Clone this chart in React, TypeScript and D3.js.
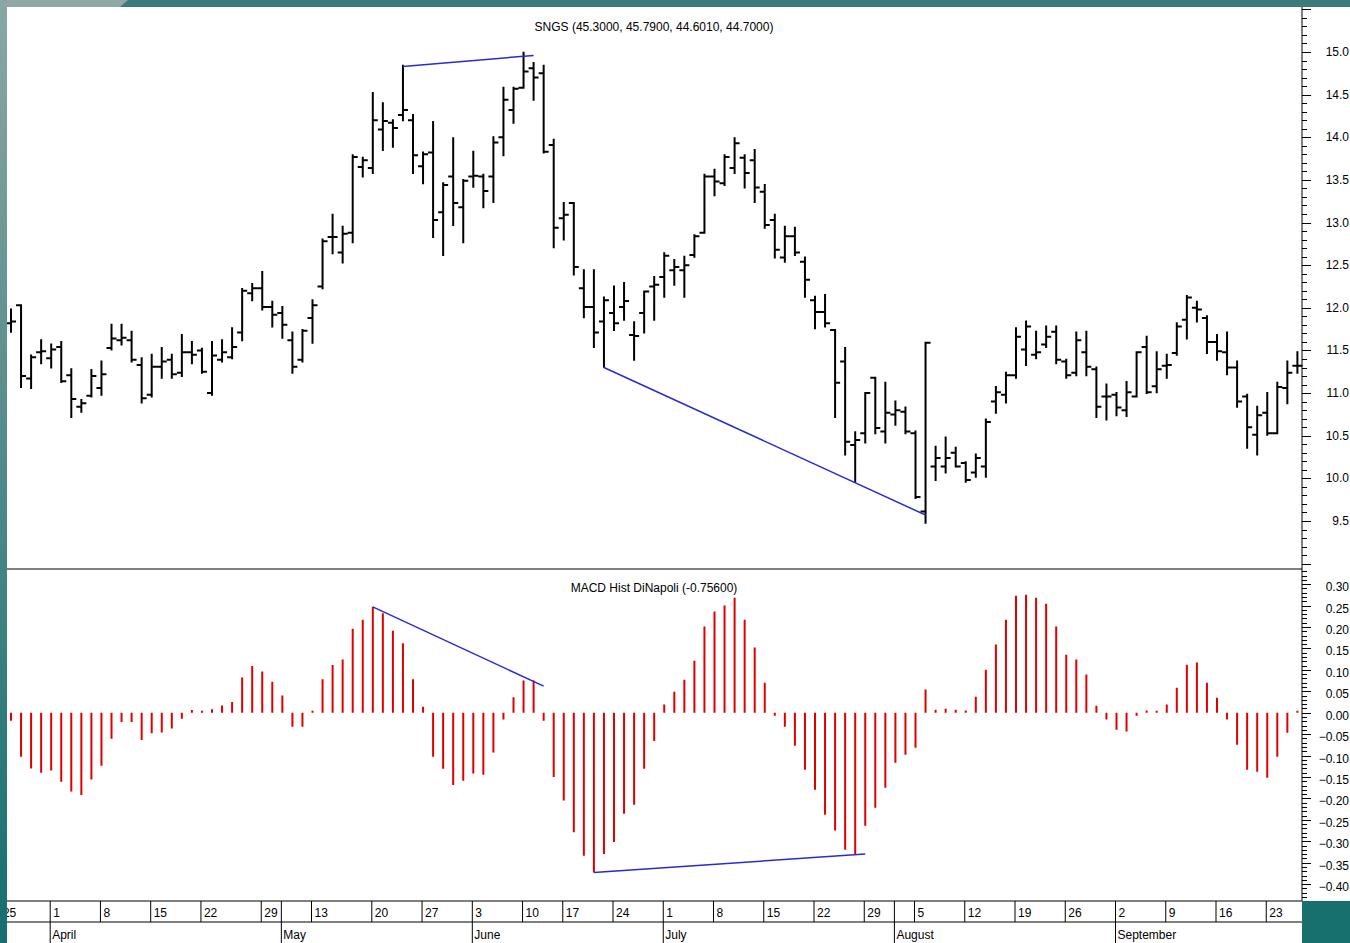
import React from 'react';
import * as d3 from 'd3';

// ---- Data (SNGS daily OHLC, Mar 26 – Sep 26) ----
const opens = [
  11.82, 12.03, 11.17, 11.48, 11.41, 11.54, 11.21, 10.84, 10.97, 11.06,
  11.53, 11.62, 11.62, 11.33, 10.98, 11.31, 11.39, 11.24, 11.48, 11.50,
  11.00, 11.39, 11.42, 11.71, 12.17, 12.23, 12.01, 11.94, 11.62, 11.39,
  11.88, 12.25, 12.83, 12.65, 12.88, 13.65, 13.64, 14.09, 14.17, 14.26,
  14.20, 13.66, 13.82, 13.12, 13.54, 13.18, 13.54, 13.54, 13.54, 14.00,
  14.32, 14.58, 14.81, 14.75, 13.91, 13.05, 13.23, 12.23, 12.01, 11.84,
  11.94, 12.01, 11.68, 11.94, 12.25, 12.36, 12.44, 12.44, 12.62, 12.88,
  13.54, 13.46, 13.64, 13.76, 13.73, 13.36, 13.03, 12.59, 12.84, 12.54,
  12.09, 11.95, 11.74, 11.37, 10.39, 10.53, 11.18, 10.55, 10.75, 10.78,
  10.53, 9.61, 10.14, 10.14, 10.30, 10.18, 10.07, 10.14, 10.90, 10.98,
  11.21, 11.51, 11.45, 11.57, 11.72, 11.37, 11.24, 11.48, 11.28, 10.96,
  10.98, 10.80, 10.96, 11.54, 11.08, 11.32, 11.47, 11.86, 12.00, 11.88,
  11.60, 11.48, 11.30, 10.96, 10.51, 10.77, 10.53, 11.06, 11.32,
];
const highs = [
  11.98, 12.03, 11.44, 11.62, 11.57, 11.60, 11.28, 10.92, 11.27, 11.37,
  11.80, 11.80, 11.72, 11.41, 11.45, 11.53, 11.45, 11.68, 11.60, 11.52,
  11.60, 11.62, 11.76, 12.22, 12.28, 12.42, 12.07, 12.01, 11.71, 11.74,
  12.09, 12.80, 13.09, 12.95, 13.79, 13.76, 14.52, 14.40, 14.20, 14.84,
  14.26, 13.82, 14.18, 13.46, 13.99, 13.50, 13.83, 13.56, 14.00, 14.58,
  14.58, 14.99, 14.87, 14.84, 13.97, 13.23, 13.23, 12.44, 12.44, 12.12,
  12.25, 12.29, 11.83, 12.19, 12.36, 12.64, 12.56, 12.60, 12.85, 13.56,
  13.62, 13.79, 13.99, 13.79, 13.85, 13.44, 13.09, 12.95, 12.94, 12.59,
  12.13, 12.15, 11.74, 11.53, 10.54, 11.00, 11.18, 11.12, 10.90, 10.83,
  10.55, 11.59, 10.37, 10.48, 10.36, 10.19, 10.28, 10.69, 11.07, 11.24,
  11.76, 11.84, 11.72, 11.78, 11.78, 11.39, 11.71, 11.72, 11.30, 11.10,
  11.00, 11.13, 11.48, 11.66, 11.48, 11.45, 11.82, 12.14, 12.07, 11.90,
  11.68, 11.71, 11.37, 10.98, 10.84, 11.00, 11.12, 11.37, 11.48,
];
const lows = [
  11.72, 11.07, 11.06, 11.35, 11.30, 11.13, 10.72, 10.78, 10.96, 10.98,
  11.51, 11.57, 11.37, 10.89, 10.96, 11.18, 11.18, 11.20, 11.35, 11.24,
  10.98, 11.37, 11.41, 11.62, 12.09, 11.98, 11.78, 11.65, 11.24, 11.37,
  11.59, 12.23, 12.64, 12.53, 12.77, 13.54, 13.58, 13.85, 13.89, 14.20,
  13.58, 13.46, 12.83, 12.62, 12.97, 12.77, 13.42, 13.18, 13.24, 13.79,
  14.17, 14.58, 14.44, 13.82, 12.71, 12.80, 12.39, 11.89, 11.54, 11.31,
  11.74, 11.86, 11.39, 11.71, 11.86, 12.13, 12.27, 12.13, 12.60, 12.88,
  13.32, 13.44, 13.58, 13.41, 13.24, 12.94, 12.59, 12.54, 12.62, 12.13,
  11.76, 11.78, 10.72, 10.28, 9.96, 10.42, 10.53, 10.42, 10.63, 10.53,
  9.77, 9.48, 9.98, 10.07, 10.14, 9.96, 10.02, 10.02, 10.77, 10.89,
  11.18, 11.33, 11.41, 11.54, 11.35, 11.18, 11.21, 11.21, 10.72, 10.69,
  10.74, 10.73, 10.96, 11.00, 11.01, 11.18, 11.45, 11.64, 11.84, 11.47,
  11.39, 11.22, 10.84, 10.36, 10.28, 10.51, 10.53, 10.88, 11.24,
];
const closes = [
  11.84, 11.20, 11.42, 11.49, 11.51, 11.14, 10.93, 10.88, 11.20, 11.22,
  11.64, 11.65, 11.39, 10.94, 11.31, 11.37, 11.22, 11.48, 11.45, 11.25,
  11.44, 11.48, 11.54, 12.20, 12.23, 12.01, 11.92, 11.80, 11.31, 11.73,
  12.03, 12.78, 12.83, 12.87, 13.77, 13.73, 14.20, 14.19, 14.11, 14.32,
  13.79, 13.80, 13.03, 13.44, 13.23, 13.49, 13.55, 13.37, 13.94, 14.44,
  14.57, 14.77, 14.70, 13.83, 12.94, 13.09, 12.48, 12.01, 11.71, 12.09,
  11.82, 12.08, 11.67, 12.19, 12.27, 12.61, 12.48, 12.50, 12.84, 13.54,
  13.48, 13.77, 13.93, 13.58, 13.41, 12.97, 12.68, 12.84, 12.65, 12.33,
  11.95, 11.82, 11.12, 10.43, 10.45, 11.00, 10.59, 10.77, 10.80, 10.55,
  9.78, 11.59, 10.24, 10.24, 10.14, 9.98, 10.24, 10.66, 11.01, 11.21,
  11.66, 11.78, 11.48, 11.66, 11.39, 11.21, 11.62, 11.31, 10.84, 10.96,
  10.83, 11.01, 11.48, 11.01, 11.28, 11.33, 11.78, 12.12, 11.98, 11.60,
  11.49, 11.30, 10.90, 10.60, 10.74, 10.53, 11.07, 11.24, 11.32,
];
const macdHist = [
  -0.019, -0.103, -0.130, -0.140, -0.135, -0.161, -0.184, -0.192, -0.156, -0.124,
  -0.061, -0.022, -0.022, -0.064, -0.048, -0.046, -0.037, -0.014, 0.006, 0.003,
  0.008, 0.017, 0.025, 0.082, 0.109, 0.096, 0.072, 0.040, -0.033, -0.033,
  0.003, 0.078, 0.111, 0.124, 0.196, 0.217, 0.247, 0.232, 0.191, 0.162,
  0.078, 0.014, -0.103, -0.131, -0.169, -0.159, -0.142, -0.145, -0.093, -0.016,
  0.036, 0.075, 0.075, -0.019, -0.150, -0.205, -0.279, -0.334, -0.373, -0.330,
  -0.302, -0.236, -0.215, -0.131, -0.066, 0.019, 0.049, 0.077, 0.121, 0.201,
  0.236, 0.250, 0.268, 0.217, 0.152, 0.070, -0.007, -0.033, -0.077, -0.133,
  -0.180, -0.238, -0.275, -0.320, -0.331, -0.264, -0.222, -0.175, -0.117, -0.098,
  -0.082, 0.054, 0.007, 0.009, 0.007, 0.005, 0.037, 0.100, 0.159, 0.217,
  0.273, 0.275, 0.268, 0.254, 0.201, 0.135, 0.124, 0.089, 0.016, -0.016,
  -0.040, -0.044, -0.007, 0.005, 0.002, 0.019, 0.058, 0.112, 0.117, 0.070,
  0.035, -0.016, -0.075, -0.133, -0.138, -0.152, -0.103, -0.047, 0.002,
];

// trend lines: [index, value] pairs
const priceLines = [
  [[39, 14.83], [52, 14.96]],
  [[59, 11.30], [91, 9.57]],
];
const macdLines = [
  [[36, 0.247], [53, 0.062]],
  [[58, -0.373], [85, -0.33]],
];

// axis labels
const priceLabels = [9.5, 10, 10.5, 11, 11.5, 12, 12.5, 13, 13.5, 14, 14.5, 15];
const macdLabels = [-0.4, -0.35, -0.3, -0.25, -0.2, -0.15, -0.1, -0.05, 0, 0.05, 0.1, 0.15, 0.2, 0.25, 0.3];
const weekIdx = [-1, 4, 9, 14, 19, 25, 27, 30, 36, 41, 46, 51, 55, 60, 65, 70, 75, 80, 85, 88, 90, 95, 100, 105, 110, 115, 120, 125];
const weekText = ['25', '1', '8', '15', '22', '29', '', '13', '20', '27', '3', '10', '17', '24', '1', '8', '15', '22', '29', '', '5', '12', '19', '26', '2', '9', '16', '23'];
const monthIdx = [4, 27, 46, 65, 88, 110];
const monthText = ['April', 'May', 'June', 'July', 'August', 'September'];

const priceTitle = 'SNGS (45.3000, 45.7900, 44.6010, 44.7000)';
const macdTitle = 'MACD Hist DiNapoli (-0.75600)';

const W = 1350;
const H = 943;
const LEFT = 7;
const RIGHT = 1302;
const TOP = 7;
const SEP = 569;
const AX1 = 901;
const AX2 = 922;

export default function App() {
  const x = d3.scaleLinear().domain([0, 128]).range([11, 1297.4]);
  const yP = d3.scaleLinear().domain([9.5, 15]).range([521, 52]);
  const yM = d3.scaleLinear().domain([-0.4, 0.3]).range([884.1, 584.1]);

  const pTicks = d3.range(90, 156).map((d) => d / 10).filter((v) => yP(v) > TOP + 1 && yP(v) < SEP - 1);
  const mTicks = d3.range(-43, 34).map((d) => d / 100).filter((v) => yM(v) > SEP + 1 && yM(v) < AX1 - 1);
  const f1 = d3.format('.1f');
  const f2 = d3.format('.2f');

  let barPath = '';
  opens.forEach((o, i) => {
    const xi = x(i);
    barPath += `M${xi},${yP(highs[i]) - 1}V${yP(lows[i]) + 1}`;
    barPath += `M${xi - 5},${yP(o)}H${xi}`;
    barPath += `M${xi},${yP(closes[i])}H${xi + 5}`;
  });

  let macdPath = '';
  macdHist.forEach((v, i) => {
    const xi = x(i);
    const y0 = yM(0);
    let y1 = yM(v);
    if (Math.abs(y1 - y0) < 2) y1 = y0 - (v >= 0 ? 2 : -2);
    macdPath += `M${xi},${y0}V${y1}`;
  });

  const fontFamily = "'Liberation Sans', Arial, Helvetica, sans-serif";

  return (
    <svg
      width={W}
      height={H}
      style={{ position: 'absolute', left: 0, top: 0, display: 'block' }}
      fontFamily={fontFamily}
      fontSize={12}
    >
      <defs>
        <linearGradient id="leftGrad" x1="0" y1="0" x2="0" y2="1">
          <stop offset="0" stopColor="#8aa7a5" />
          <stop offset="0.5" stopColor="#4f8a89" />
          <stop offset="1" stopColor="#146f6e" />
        </linearGradient>
      </defs>
      <rect x={0} y={0} width={W} height={H} fill="#ffffff" />

      {/* titles */}
      <text x={654} y={31} textAnchor="middle" fill="#000">{priceTitle}</text>
      <text x={654} y={592} textAnchor="middle" fill="#000">{macdTitle}</text>

      {/* price bars */}
      <path d={barPath} stroke="#000" strokeWidth={2} fill="none" />

      {/* macd histogram */}
      <path d={macdPath} stroke="#e00000" strokeWidth={2} fill="none" />

      {/* trend lines */}
      {priceLines.map((ln, k) => (
        <line key={'pl' + k} x1={x(ln[0][0])} y1={yP(ln[0][1])} x2={x(ln[1][0])} y2={yP(ln[1][1])} stroke="#2a2ad0" strokeWidth={1.5} />
      ))}
      {macdLines.map((ln, k) => (
        <line key={'ml' + k} x1={x(ln[0][0])} y1={yM(ln[0][1])} x2={x(ln[1][0])} y2={yM(ln[1][1])} stroke="#2a2ad0" strokeWidth={1.5} />
      ))}

      {/* panel frame */}
      <line x1={RIGHT} y1={TOP} x2={RIGHT} y2={AX1} stroke="#000" strokeWidth={1} />
      <line x1={LEFT} y1={SEP} x2={RIGHT} y2={SEP} stroke="#000" strokeWidth={1} />
      <line x1={LEFT} y1={AX1} x2={RIGHT} y2={AX1} stroke="#000" strokeWidth={1} />
      <line x1={LEFT} y1={AX2} x2={RIGHT} y2={AX2} stroke="#000" strokeWidth={1} />

      {/* right axis ticks */}
      {pTicks.map((v) => {
        const major = Math.round(v * 10) % 5 === 0;
        return <line key={'pt' + v} x1={RIGHT} x2={RIGHT + (major ? 9 : 5)} y1={Math.round(yP(v)) + 0.5} y2={Math.round(yP(v)) + 0.5} stroke="#000" strokeWidth={1} />;
      })}
      {mTicks.map((v) => {
        const major = Math.round(v * 100) % 5 === 0;
        return <line key={'mt' + v} x1={RIGHT} x2={RIGHT + (major ? 9 : 5)} y1={Math.round(yM(v)) + 0.5} y2={Math.round(yM(v)) + 0.5} stroke="#000" strokeWidth={1} />;
      })}
      {priceLabels.map((v) => (
        <text key={'plb' + v} x={1349} y={yP(v) + 4} textAnchor="end" fill="#000">{f1(v)}</text>
      ))}
      {macdLabels.map((v) => (
        <text key={'mlb' + v} x={1349} y={yM(v) + 7} textAnchor="end" fill="#000">{f2(v)}</text>
      ))}

      {/* date axis */}
      {weekIdx.map((i, k) => (
        <g key={'wk' + k}>
          <line x1={x(i) - 1} x2={x(i) - 1} y1={AX1} y2={AX2} stroke="#000" strokeWidth={1} />
          <text x={x(i) + 2} y={917} fill="#000">{weekText[k]}</text>
        </g>
      ))}
      {monthIdx.map((i, k) => (
        <g key={'mo' + k}>
          <line x1={x(i) - 1} x2={x(i) - 1} y1={AX2} y2={H} stroke="#000" strokeWidth={1} />
          <text x={x(i) + 1} y={939} fill="#000">{monthText[k]}</text>
        </g>
      ))}

      {/* frame decoration */}
      <rect x={RIGHT} y={AX1} width={W - RIGHT} height={H - AX1} fill="#176f6e" />
      <rect x={0} y={0} width={W} height={TOP} fill="#3f7a7a" />
      <polygon points={`0,0 128,0 120,${TOP} 0,${TOP}`} fill="#8fa8a6" />
      <rect x={0} y={0} width={LEFT} height={H} fill="url(#leftGrad)" />
    </svg>
  );
}
